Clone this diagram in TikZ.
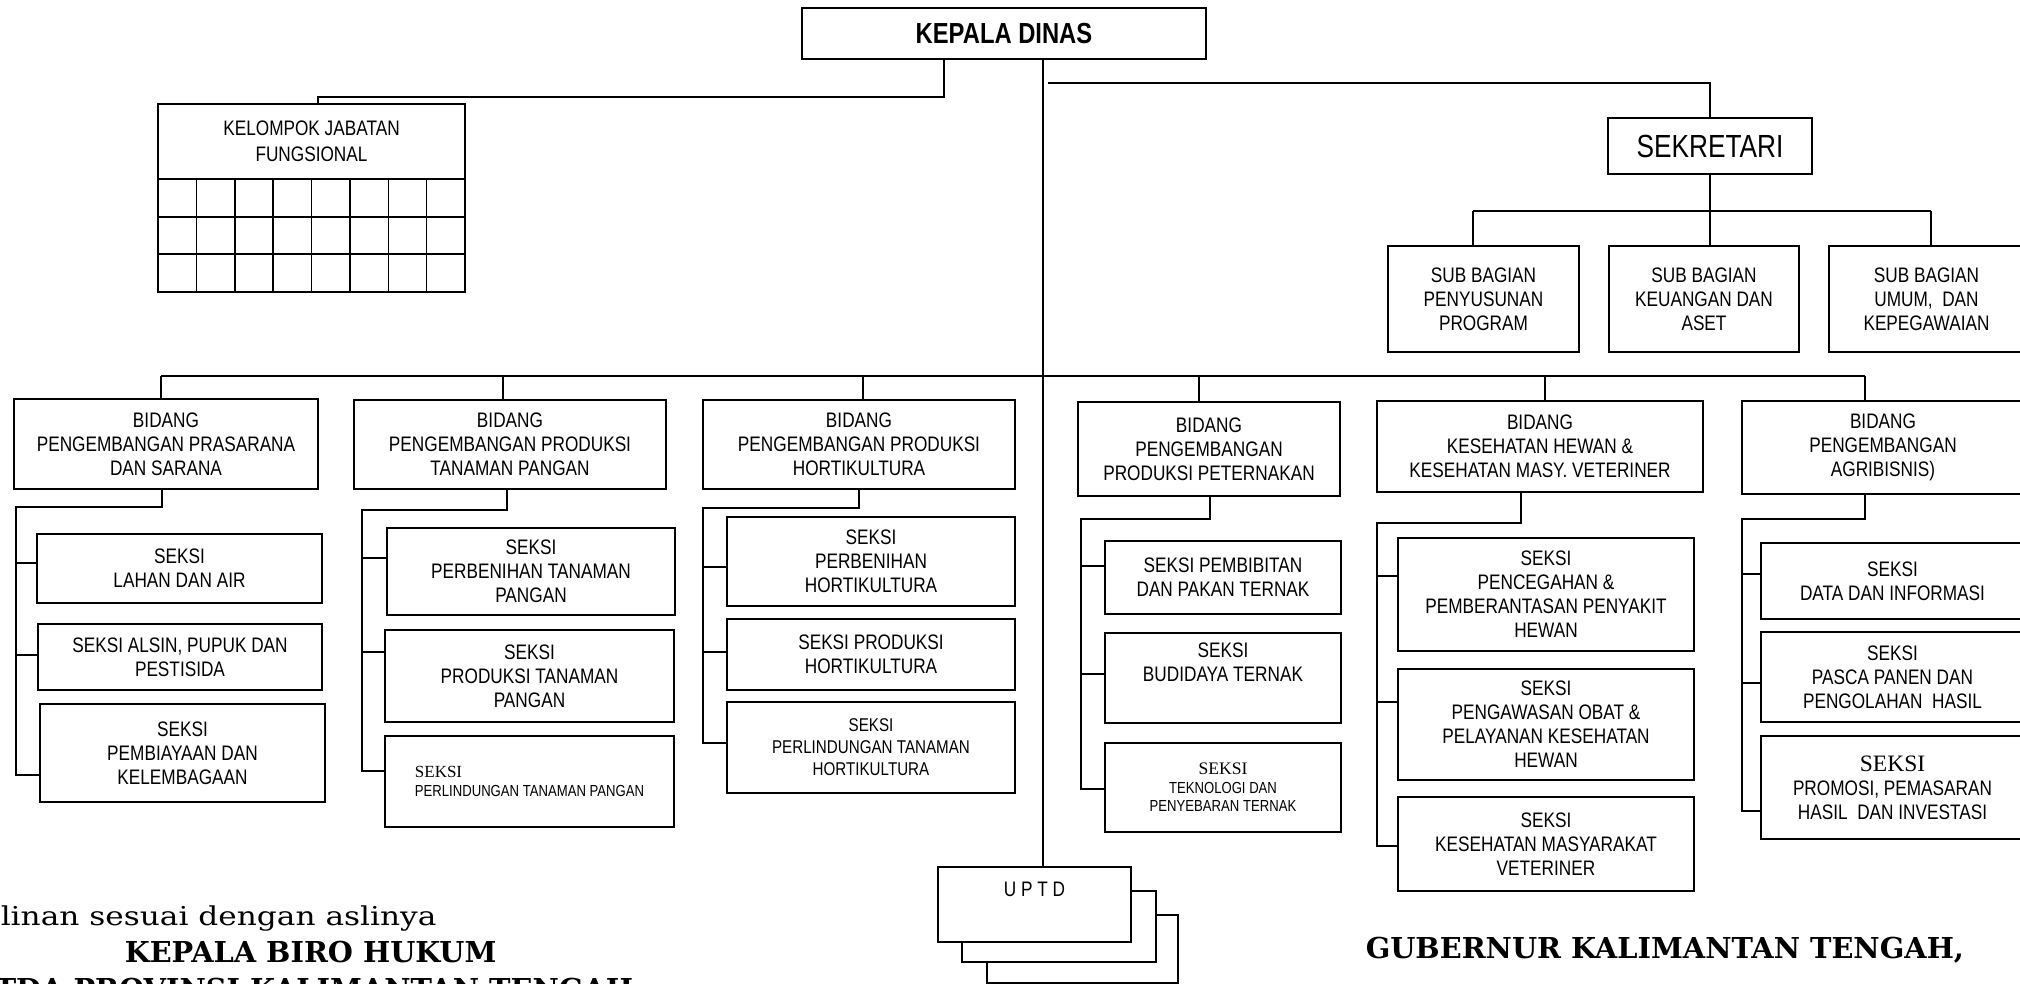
\documentclass[tikz,border=0pt]{standalone}
\usepackage{fontspec}
\setmainfont{Liberation Sans}[FakeStretch=0.82]
\newfontfamily\timesfont{Liberation Serif}
\newfontfamily\slabfont{DejaVu Serif}
\newfontfamily\slabwide{DejaVu Serif}[FakeStretch=1.2]

\begin{document}
\begin{tikzpicture}[x=0.5pt, y=-0.5pt, line width=0.75pt,
  box/.style={draw, fill=white, inner sep=0pt, align=center, font=\fontsize{10.5}{12}\selectfont},
  wh/.style 2 args={minimum width=#1*0.5pt, minimum height=#2*0.5pt},
  smalltxt/.style={font=\fontsize{8}{9.3}\selectfont},
  sign/.style={inner sep=0pt, anchor=base west, font=\slabfont\bfseries\fontsize{14.4}{17}\selectfont}]
  \useasboundingbox (0,0) rectangle (2020,984);
  \clip (0,0) rectangle (2020,984);

  % top
  \node[box, wh={404}{51}, font=\bfseries\fontsize{14.5}{17}\selectfont] (kd) at (1004,33.5) {KEPALA DINAS};
  \node[box, wh={307}{75}, font=\fontsize{10.5}{13}\selectfont] (kjf) at (311.5,141.5) {KELOMPOK JABATAN\\FUNGSIONAL};
  \draw (158,179) rectangle (465,292);
  \foreach \r in {217,254} \draw (158,\r) -- (465,\r);
  \foreach \c in {1,...,7} \draw ({158+38.375*\c},179) -- ({158+38.375*\c},292);

  % sekretariat
  \node[box, wh={204}{56}, font=\fontsize{16}{19}\selectfont] (sek) at (1710,146) {SEKRETARI};
  \node[box, wh={191}{106}] (sb1) at (1483.5,299) {SUB BAGIAN\\PENYUSUNAN\\PROGRAM};
  \node[box, wh={190}{106}] (sb2) at (1704,299) {SUB BAGIAN\\KEUANGAN DAN\\ASET};
  \node[box, wh={195}{106}] (sb3) at (1926.5,299) {SUB BAGIAN\\UMUM,\ \ DAN\\KEPEGAWAIAN};

  % bidang
  \node[box, wh={304}{90}] (bid1) at (166,444) {BIDANG\\PENGEMBANGAN PRASARANA\\DAN SARANA};
  \node[box, wh={312}{89}] (bid2) at (510,444.5) {BIDANG\\PENGEMBANGAN PRODUKSI\\TANAMAN PANGAN};
  \node[box, wh={312}{89}] (bid3) at (859,444.5) {BIDANG\\PENGEMBANGAN PRODUKSI\\HORTIKULTURA};
  \node[box, wh={262}{94}] (bid4) at (1209,449) {BIDANG\\PENGEMBANGAN\\PRODUKSI PETERNAKAN};
  \node[box, wh={326}{91}] (bid5) at (1540,446.5) {BIDANG\\KESEHATAN HEWAN \&\\KESEHATAN MASY. VETERINER};
  \node[box, wh={282}{93}] (bid6) at (1883,447.5) {BIDANG\\PENGEMBANGAN\\AGRIBISNIS)};

  % seksi
  \node[box, wh={285}{69}] (s11) at (179.5,568.5) {SEKSI\\LAHAN DAN AIR};
  \node[box, wh={284}{66}] (s12) at (180,657) {SEKSI ALSIN, PUPUK DAN\\PESTISIDA};
  \node[box, wh={285}{98}] (s13) at (182.5,753) {SEKSI\\PEMBIAYAAN DAN\\KELEMBAGAAN};
  \node[box, wh={288}{87}] (s21) at (531,571.5) {SEKSI\\PERBENIHAN TANAMAN\\PANGAN};
  \node[box, wh={289}{92}] (s22) at (529.5,676) {SEKSI\\PRODUKSI TANAMAN\\PANGAN};
  \node[box, wh={289}{91}, smalltxt, align=left] (s23) at (529.5,781.5) {{\timesfont\fontsize{8.5}{9.3}\selectfont SEKSI}\\PERLINDUNGAN TANAMAN PANGAN};
  \node[box, wh={288}{89}] (s31) at (871,561.5) {SEKSI\\PERBENIHAN\\HORTIKULTURA};
  \node[box, wh={288}{71}] (s32) at (871,654.5) {SEKSI PRODUKSI\\HORTIKULTURA};
  \node[box, wh={288}{91}, font=\fontsize{9.25}{11}\selectfont] (s33) at (871,747.5) {SEKSI\\PERLINDUNGAN TANAMAN\\HORTIKULTURA};
  \node[box, wh={236}{73}] (s41) at (1223,577.5) {SEKSI PEMBIBITAN\\DAN PAKAN TERNAK};
  \node[box, wh={236}{90}] (s42) at (1223,678) {SEKSI\\BUDIDAYA TERNAK\\\strut};
  \node[box, wh={236}{89}, smalltxt] (s43) at (1223,787.5) {{\timesfont\fontsize{8.8}{9.5}\selectfont SEKSI}\\TEKNOLOGI DAN\\PENYEBARAN TERNAK};
  \node[box, wh={296}{113}] (s51) at (1546,594.5) {SEKSI\\PENCEGAHAN \&\\PEMBERANTASAN PENYAKIT\\HEWAN};
  \node[box, wh={296}{111}] (s52) at (1546,724.5) {SEKSI\\PENGAWASAN OBAT \&\\PELAYANAN KESEHATAN\\HEWAN};
  \node[box, wh={296}{94}] (s53) at (1546,844) {SEKSI\\KESEHATAN MASYARAKAT\\VETERINER};
  \node[box, wh={263}{76}] (s61) at (1892.5,581) {SEKSI\\DATA DAN INFORMASI};
  \node[box, wh={263}{90}] (s62) at (1892.5,677) {SEKSI\\PASCA PANEN DAN\\PENGOLAHAN\ \ HASIL};
  \node[box, wh={263}{103}] (s63) at (1892.5,787.5) {{\timesfont\fontsize{11.75}{13}\selectfont SEKSI}\\PROMOSI, PEMASARAN\\HASIL\ \ DAN INVESTASI};

  % uptd, stacked
  \node[box, wh={191}{68}] (uptd3) at (1082.5,949) {};
  \node[box, wh={194}{71}] (uptd2) at (1059,926.5) {};
  \node[box, wh={193}{75}] (uptd) at (1034.5,904.5) {U P T D\\\strut};

  % lines
  \coordinate (spine) at (1043,0);
  \draw (kd.south -| spine) -- (uptd.north -| spine);
  \draw (kd.south -| 944,0) |- (318,97) -- (kjf.north -| 318,0);
  \coordinate (sekjoin) at (1048,83);
  \draw (sekjoin) -| (sek.north);
  \draw (sek.south) -- (sek.south |- 0,211);
  \draw (1473,211) -- (1931,211);
  \foreach \n/\x in {1/1473, 2/1710, 3/1931} \draw (\x,211) -- (sb\n.north -| \x,0);

  \draw (161,376) -- (1865,376);
  \foreach \n/\x in {1/161, 2/503, 3/863, 4/1199, 5/1545, 6/1865} {
    \coordinate (t\n) at (\x,376);
    \draw (t\n) -- (t\n |- bid\n.north);
  }
  \foreach \g/\gx/\ey/\rx/\ya/\yb/\yc in {1/162/507/16/563/655/775, 2/507/510/362/558/652/771,
      3/859/508/703/567/652/743, 4/1210/519/1081/566/674/789,
      5/1521/523/1377/576/702/846, 6/1865/519/1742/574/683/811} {
    \draw (bid\g.south -| \gx,0) |- (\rx,\ey) -- (\rx,\yc) -- (s\g3.west |- 0,\yc);
    \draw (\rx,\ya) -- (s\g1.west |- 0,\ya);
    \draw (\rx,\yb) -- (s\g2.west |- 0,\yb);
  }

  % signatures
  \node[inner sep=0pt, anchor=base west, font=\slabwide\fontsize{13}{15}\selectfont] (salinan) at (0,925) {linan sesuai dengan aslinya};
  \node[sign] (biro) at (124,962) {KEPALA BIRO HUKUM};
  \node[sign] (setda) at (-6,999) {TDA PROVINSI KALIMANTAN TENGAH};
  \node[sign] (gub) at (1365,958) {GUBERNUR KALIMANTAN TENGAH,};
\end{tikzpicture}
\end{document}
